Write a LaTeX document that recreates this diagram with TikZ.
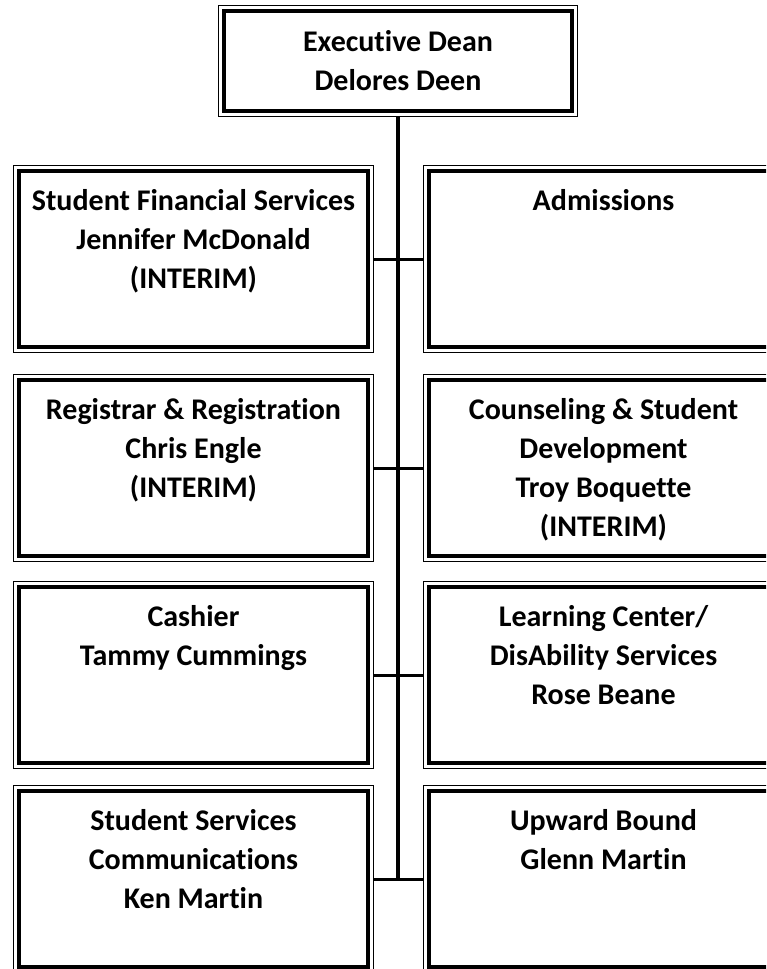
\documentclass[tikz,border=0pt]{standalone}
\usepackage{fontspec}
\setmainfont{Carlito}[RawFeature=-liga]
\usetikzlibrary{positioning}

\tikzset{
  unit/.style={draw, line width=4pt, inner sep=0pt, outer sep=0pt,
    font=\bfseries\fontsize{30}{39}\selectfont},
  frame/.style={draw, line width=1.2pt},
  trunk/.style={line width=4pt},
  branch/.style={line width=3pt},
}
\newcommand{\unittext}[1]{\parbox[c][176pt][t]{349pt}{\centering\rule{0pt}{39pt}#1}}

\begin{document}
\begin{tikzpicture}[x=1pt, y=-1pt]
  \useasboundingbox (0,0) rectangle (766,969);
  \clip (0,0) rectangle (766,969);
  % dean
  \node[unit, minimum width=348pt, minimum height=100pt, align=center] (dean) at (398,61)
    {Executive Dean\\Delores Deen};
  % left column
  \node[unit] (sfs) at (193.5,259) {\unittext{Student Financial Services\\Jennifer McDonald\\(INTERIM)}};
  \node[unit] (reg) at (193.5,468) {\unittext{Registrar \& Registration\\Chris Engle\\(INTERIM)}};
  \node[unit] (cash) at (193.5,675) {\unittext{Cashier\\Tammy Cummings}};
  \node[unit] (ssc) at (193.5,879) {\unittext{Student Services\\Communications\\Ken Martin}};
  % right column
  \node[unit] (adm) at (603.5,259) {\unittext{Admissions}};
  \node[unit] (csd) at (603.5,468) {\unittext{Counseling \& Student\\Development\\Troy Boquette\\(INTERIM)}};
  \node[unit] (lcd) at (603.5,675) {\unittext{Learning Center/\\DisAbility Services\\Rose Beane}};
  \node[unit] (ubd) at (603.5,879) {\unittext{Upward Bound\\Glenn Martin}};
  % thin outer frames
  \foreach \n in {dean,sfs,reg,cash,ssc,adm,csd,lcd,ubd}
    \draw[frame] ([shift={(-5.2pt,5.2pt)}]\n.north west) rectangle ([shift={(5.2pt,-5.2pt)}]\n.south east);
  % lines
  \draw[trunk] ([yshift=-5.2pt]dean.south) -- (dean.south |- ubd.west);
  \foreach \l/\r in {sfs/adm, reg/csd, cash/lcd, ssc/ubd}
    \draw[branch] ([xshift=5.2pt]\l.east) -- ([xshift=-5.2pt]\r.west);
\end{tikzpicture}
\end{document}
